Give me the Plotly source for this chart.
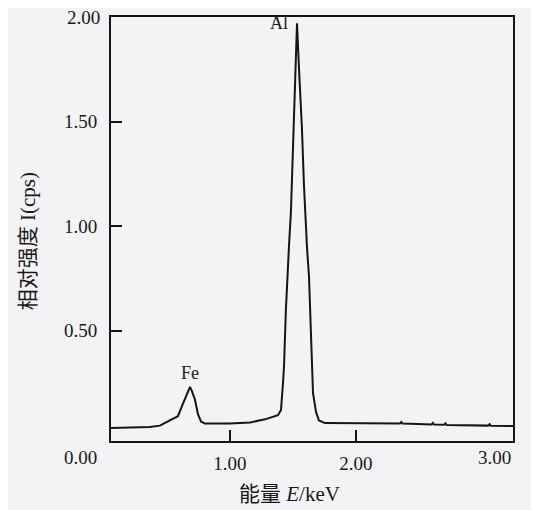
import plotly.graph_objects as go

# Spectrum data
energy_kev = [0.056, 0.20, 0.365, 0.444, 0.524, 0.587, 0.627, 0.659, 0.683, 0.698, 0.722,
              0.746, 0.770, 0.800, 1.000, 1.159, 1.278, 1.381, 1.405, 1.421, 1.429, 1.444,
              1.452, 1.468, 1.484, 1.500, 1.508, 1.524, 1.532, 1.548, 1.571, 1.587, 1.595,
              1.611, 1.627, 1.643, 1.651, 1.659, 1.683, 1.706, 1.754, 2.000, 2.349, 2.36,
              2.37, 2.60, 2.61, 2.62, 2.70, 2.71, 2.72, 3.05, 3.06, 3.07, 3.246]
intensity = [0.033, 0.035, 0.038, 0.045, 0.070, 0.090, 0.150, 0.200, 0.230, 0.210, 0.170,
             0.100, 0.065, 0.055, 0.055, 0.060, 0.075, 0.095, 0.120, 0.250, 0.330, 0.600,
             0.730, 0.900, 1.070, 1.350, 1.470, 1.800, 1.970, 1.750, 1.470, 1.200, 1.070,
             0.900, 0.760, 0.500, 0.340, 0.200, 0.110, 0.070, 0.057, 0.056, 0.055, 0.062,
             0.055, 0.050, 0.058, 0.050, 0.049, 0.056, 0.048, 0.045, 0.052, 0.044, 0.043]

y_tickvals = [0.5, 1.0, 1.5]
y_ticktext = ["0.50", "1.00", "1.50"]
y_top_label = "2.00"
x_tickvals = [1.0, 2.0]
x_ticktext = ["1.00", "2.00"]
peak_labels = ["Al", "Fe"]

SERIF = "Liberation Serif"
CJK = "Liberation Serif, Noto Sans CJK SC"
BG = "#f3f3f5"

fig = go.Figure()
fig.add_trace(go.Scatter(x=energy_kev, y=intensity, mode="lines",
                         line=dict(color="#151515", width=2), showlegend=False))

fig.update_layout(
    width=531, height=502,
    margin=dict(l=103, r=26, t=7, b=69),
    paper_bgcolor=BG, plot_bgcolor=BG,
    font=dict(family=SERIF, size=19, color="#1a1a1a"),
    xaxis=dict(range=[0.056, 3.246], tickvals=x_tickvals, ticktext=x_ticktext,
               ticks="inside", ticklen=11, tickwidth=2, tickcolor="#151515",
               showline=True, linecolor="#151515", linewidth=2, mirror=True,
               showgrid=False, zeroline=False, ticklabelstandoff=4,
               tickfont=dict(family=SERIF, size=19)),
    yaxis=dict(range=[-0.0286, 2.0], tickvals=y_tickvals, ticktext=y_ticktext,
               ticks="inside", ticklen=11, tickwidth=2, tickcolor="#151515",
               showline=True, linecolor="#151515", linewidth=2, mirror=True,
               showgrid=False, zeroline=False, ticklabelstandoff=8,
               tickfont=dict(family=SERIF, size=19)),
)

annotations = [
    dict(x=1.49, y=1.97, xref="x", yref="y", text=peak_labels[0], showarrow=False,
         xanchor="right", yanchor="middle", xshift=-2, font=dict(family=SERIF, size=18)),
    dict(x=0.683, y=0.23, xref="x", yref="y", text=peak_labels[1], showarrow=False,
         xanchor="center", yanchor="bottom", yshift=2, font=dict(family=SERIF, size=18)),
    dict(x=0, y=2.0, xref="paper", yref="y", text=y_top_label, showarrow=False,
         xanchor="right", yanchor="middle", xshift=-9, font=dict(family=SERIF, size=19)),
    dict(x=-0.077, y=-0.04, xref="paper", yref="paper", text="0.00", showarrow=False,
         xanchor="center", yanchor="middle", font=dict(family=SERIF, size=19)),
    dict(x=0.955, y=-0.04, xref="paper", yref="paper", text="3.00", showarrow=False,
         xanchor="center", yanchor="middle", font=dict(family=SERIF, size=19)),
    dict(x=0.443, y=-0.124, xref="paper", yref="paper", text="能量 <i>E</i>/keV",
         showarrow=False, xanchor="center", yanchor="middle", font=dict(family=CJK, size=21)),
    dict(x=-0.208, y=0.472, xref="paper", yref="paper", text="相对强度 I(cps)",
         showarrow=False, textangle=-90, xanchor="center", yanchor="middle",
         font=dict(family=CJK, size=21)),
]
fig.update_layout(annotations=annotations)

fig.write_html("out.html")
